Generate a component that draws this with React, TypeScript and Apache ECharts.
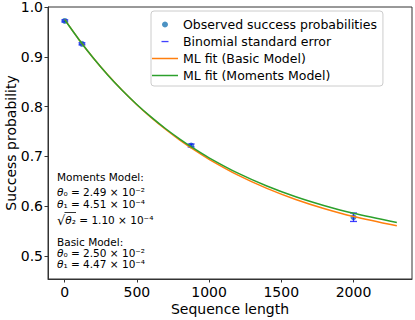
import React, { useEffect, useRef } from "react";
import * as echarts from "echarts";

// Observed data
const seqLengths = [1, 120, 876, 2000];
const observed = [0.972, 0.926, 0.722, 0.578];
const stdErr = [0.002, 0.002, 0.003, 0.0085];

// Fitted curves
const fitX = [1, 100, 200, 300, 400, 500, 600, 700, 800, 900, 1000, 1200, 1400, 1600, 1800, 2000, 2300];
const basicFit = [0.9746, 0.9344, 0.8972, 0.8633, 0.8322, 0.8038, 0.7778, 0.7541, 0.7323, 0.7125, 0.6943, 0.6625, 0.6359, 0.6136, 0.595, 0.5794, 0.5607];
const momentsFit = [0.9743, 0.9343, 0.897, 0.8632, 0.8324, 0.8044, 0.7789, 0.7556, 0.7344, 0.715, 0.6973, 0.6664, 0.6407, 0.6191, 0.6011, 0.5859, 0.5675];

const xTicks = [0, 500, 1000, 1500, 2000];
const yTicks = [0.5, 0.6, 0.7, 0.8, 0.9, 1.0];

const annotationLines = [
  "Moments Model:",
  "{th|θ}₀ = 2.49 × 10⁻²",
  "{th|θ}₁ = 4.51 × 10⁻⁴",
  "{sq|√}{th|θ}₂ = 1.10 × 10⁻⁴",
  "Basic Model:",
  "{th|θ}₀ = 2.50 × 10⁻²",
  "{th|θ}₁ = 4.47 × 10⁻⁴",
];

const FONT = "DejaVu Sans";
const ERR_COLOR = "rgba(0,0,255,0.75)";
const LINE_ICON = "path://M0,0h26v1.5h-26z";

export default function App() {
  const ref = useRef<HTMLDivElement>(null);
  useEffect(() => {
    if (!ref.current) return;
    const chart = echarts.init(ref.current, undefined, { renderer: "svg" });
    const annY = [177, 192, 204, 220, 241.5, 252.5, 264];
    const graphics: any[] = annotationLines.map((t, i) => ({
      type: "text",
      x: 57,
      y: annY[i],
      z: 10,
      style: {
        text: t,
        fontFamily: FONT,
        fontSize: 10.5,
        fill: "#000",
        verticalAlign: "middle",
        rich: {
          th: { fontStyle: "italic", fontFamily: FONT, fontSize: 10.5 },
          sq: { fontFamily: FONT, fontSize: 13 },
        },
      },
    }));
    graphics.push({
      type: "line",
      z: 10,
      shape: { x1: 64.5, y1: 212.5, x2: 76, y2: 212.5 },
      style: { stroke: "#000", lineWidth: 0.8 },
    });

    chart.setOption({
      animation: false,
      textStyle: { fontFamily: FONT },
      grid: {
        left: 48,
        right: 3,
        top: 7,
        bottom: 41,
        outerBoundsMode: "none",
        containLabel: false,
        show: true,
        borderColor: "#333",
        borderWidth: 1,
        backgroundColor: "transparent",
      },
      legend: {
        orient: "vertical",
        left: 151,
        top: 11,
        padding: [7, 6, 4, 1],
        itemWidth: 26,
        itemHeight: 6,
        itemGap: 4,
        borderColor: "#ccc",
        borderWidth: 1,
        borderRadius: 3,
        backgroundColor: "rgba(255,255,255,0.85)",
        textStyle: { fontFamily: FONT, fontSize: 12.5, color: "#000" },
        data: [
          { name: "Observed success probabilities", icon: "circle" },
          { name: "Binomial standard error", icon: "path://M0,0M26,6M9.5,2.4h7v1.3h-7z" },
          { name: "ML fit (Basic Model)", icon: LINE_ICON },
          { name: "ML fit (Moments Model)", icon: LINE_ICON },
        ],
      },
      xAxis: {
        type: "value",
        min: -115,
        max: 2405,
        name: "Sequence length",
        nameLocation: "middle",
        nameGap: 23,
        nameMoveOverlap: false,
        nameTextStyle: { fontFamily: FONT, fontSize: 14, color: "#000" },
        axisLine: { show: true, onZero: false, lineStyle: { color: "#333", width: 1 } },
        axisTick: { show: true, length: 3.5, inside: false, customValues: xTicks, lineStyle: { color: "#333" } },
        axisLabel: {
          customValues: xTicks,
          fontFamily: FONT,
          fontSize: 14,
          color: "#000",
          margin: 6,
          formatter: (v: number) => String(v),
        },
        splitLine: { show: false },
      },
      yAxis: {
        type: "value",
        min: 0.454,
        max: 1.0,
        name: "Success probability",
        nameLocation: "middle",
        nameGap: 30,
        nameMoveOverlap: false,
        nameTextStyle: { fontFamily: FONT, fontSize: 14, color: "#000" },
        axisLine: { show: true, onZero: false, lineStyle: { color: "#333", width: 1 } },
        axisTick: { show: true, length: 3.5, customValues: yTicks, lineStyle: { color: "#333" } },
        axisLabel: {
          customValues: yTicks,
          fontFamily: FONT,
          fontSize: 14,
          color: "#000",
          margin: 5,
          formatter: (v: number) => v.toFixed(1),
        },
        splitLine: { show: false },
      },
      series: [
        {
          name: "Observed success probabilities",
          type: "scatter",
          data: seqLengths.map((x, i) => [x, observed[i]]),
          symbol: "circle",
          symbolSize: 6,
          itemStyle: { color: "#1f77b4" },
          z: 2,
        },
        {
          name: "Binomial standard error",
          type: "custom",
          data: seqLengths.map((x, i) => [x, observed[i], stdErr[i]]),
          encode: { x: 0, y: 1 },
          itemStyle: { color: ERR_COLOR },
          z: 3,
          renderItem: (params: any, api: any) => {
            const x = api.value(0);
            const y = api.value(1);
            const e = api.value(2);
            const top = api.coord([x, y + e]);
            const bot = api.coord([x, y - e]);
            const hw = 3.5;
            const style = { stroke: ERR_COLOR, lineWidth: 1.3 };
            return {
              type: "group",
              children: [
                { type: "line", shape: { x1: top[0], y1: top[1], x2: bot[0], y2: bot[1] }, style },
                { type: "line", shape: { x1: top[0] - hw, y1: top[1], x2: top[0] + hw, y2: top[1] }, style },
                { type: "line", shape: { x1: bot[0] - hw, y1: bot[1], x2: bot[0] + hw, y2: bot[1] }, style },
              ],
            };
          },
        },
        {
          name: "ML fit (Basic Model)",
          type: "line",
          data: fitX.map((x, i) => [x, basicFit[i]]),
          symbol: "none",
          smooth: 0.3,
          lineStyle: { color: "#ff7f0e", width: 1.5 },
          itemStyle: { color: "#ff7f0e" },
          z: 4,
        },
        {
          name: "ML fit (Moments Model)",
          type: "line",
          data: fitX.map((x, i) => [x, momentsFit[i]]),
          symbol: "none",
          smooth: 0.3,
          lineStyle: { color: "#2ca02c", width: 1.5 },
          itemStyle: { color: "#2ca02c" },
          z: 5,
        },
      ],
      graphic: graphics,
    });
    return () => chart.dispose();
  }, []);
  return (
    <div
      ref={ref}
      style={{ position: "fixed", left: 0, top: 0, width: 415, height: 320, background: "#fff" }}
    />
  );
}
